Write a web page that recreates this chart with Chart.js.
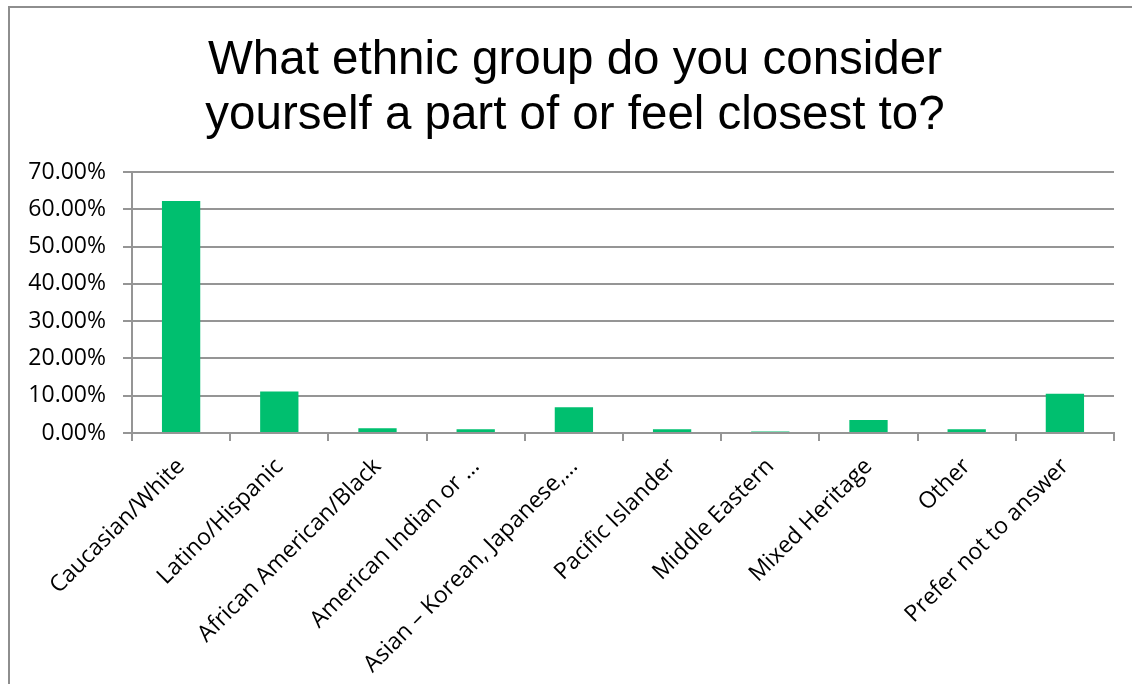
<!DOCTYPE html>
<html>
<head>
<meta charset="utf-8">
<script src="https://cdn.jsdelivr.net/npm/chart.js@4/dist/chart.umd.min.js"></script>
<style>
  html, body { margin: 0; padding: 0; background: #fff; overflow: hidden; }
  #frame { position: absolute; left: 8px; top: 6px; width: 1300px; height: 900px; border: 2px solid #8e8e8e; }
  #wrap { position: absolute; left: 0; top: 0; width: 1150px; height: 684px; }
</style>
</head>
<body>
<div id="frame"></div>
<div id="wrap"><canvas id="chart"></canvas></div>
<script>
const titleLines = ['What ethnic group do you consider', 'yourself a part of or feel closest to?'];
const categories = [
    'Caucasian/White',
    'Latino/Hispanic',
    'African American/Black',
    'American Indian or …',
    'Asian – Korean, Japanese,…',
    'Pacific Islander',
    'Middle Eastern',
    'Mixed Heritage',
    'Other',
    'Prefer not to answer'
];
const shares = [62.2, 11.1, 1.3, 1.0, 6.9, 1.0, 0.4, 3.5, 1.0, 10.5];
const yMax = 70;
const yStep = 10;

const gridGrey = '#959595';
const tickFont = { family: '"Open Sans", sans-serif', size: 23 };

const ctx = document.getElementById('chart').getContext('2d');
new Chart(ctx, {
    type: 'bar',
    data: {
        labels: categories,
        datasets: [{
            data: shares,
            backgroundColor: '#00BF6F',
            borderWidth: 0,
            categoryPercentage: 1,
            barPercentage: 0.39
        }]
    },
    options: {
        responsive: true,
        maintainAspectRatio: false,
        animation: false,
        layout: { padding: { top: 33, right: 0, left: 0, bottom: 0 } },
        plugins: {
            legend: { display: false },
            tooltip: { enabled: false },
            title: {
                display: true,
                text: titleLines,
                color: '#000',
                font: { family: '"Liberation Sans", Arial, sans-serif', size: 47.5, weight: 'normal', lineHeight: 55 / 47.5 },
                padding: { top: 0, bottom: 29 }
            }
        },
        scales: {
            x: {
                offset: true,
                grid: {
                    offset: true,
                    drawOnChartArea: false,
                    drawTicks: true,
                    tickLength: 8,
                    color: gridGrey,
                    lineWidth: 2
                },
                border: { display: true, color: gridGrey, width: 2 },
                ticks: {
                    color: '#000',
                    font: tickFont,
                    minRotation: 45,
                    maxRotation: 45,
                    autoSkip: false,
                    padding: 12
                },
                afterFit: scale => { scale.height = 251; }
            },
            y: {
                min: 0,
                max: yMax,
                grid: {
                    color: gridGrey,
                    lineWidth: 2,
                    drawTicks: true,
                    tickLength: 9
                },
                border: { display: true, color: gridGrey, width: 2 },
                ticks: {
                    stepSize: yStep,
                    color: '#000',
                    font: tickFont,
                    padding: 17,
                    callback: v => v.toFixed(2) + '%'
                },
                afterFit: scale => { scale.width = 132; }
            },
            // empty right-hand axis, only there to reserve space so the title centres on the frame
            yRight: {
                position: 'right',
                grid: { display: false },
                border: { display: false },
                ticks: { display: false },
                afterFit: scale => { scale.width = 36; }
            }
        }
    }
});
</script>
</body>
</html>
